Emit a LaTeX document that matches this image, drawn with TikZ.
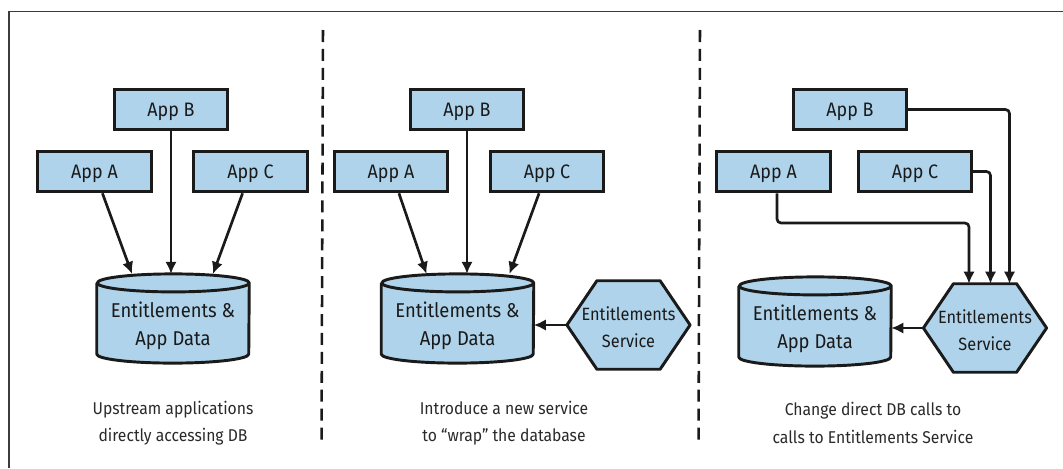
\documentclass[tikz,border=0pt]{standalone}
\usepackage{fontspec}
\setmainfont[FakeStretch=0.92]{Fira Sans}
\usetikzlibrary{arrows.meta,calc}
\definecolor{boxblue}{HTML}{AFD3EA}
\definecolor{inkc}{HTML}{1A1A1A}
\definecolor{captc}{HTML}{2A2A2A}
\tikzset{
  x=0.75pt,y=-0.75pt,
  appbox/.style={draw=inkc,fill=boxblue,line width=2.2pt,minimum width=85pt,minimum height=30.5pt,inner sep=0pt,text height=10pt,text depth=0pt,font=\fontsize{14.6}{17}\selectfont,text=inkc},
  dbframe/.style={inner sep=0pt,minimum width=114pt,minimum height=66.5pt},
  hexframe/.style={inner sep=0pt,minimum width=92pt,minimum height=66pt},
  dbtext/.style={inner sep=0pt,align=center,font=\fontsize{15}{20.3}\selectfont,text=inkc},
  hextext/.style={inner sep=0pt,align=center,font=\fontsize{13.3}{20.5}\selectfont,text=inkc},
  capt/.style={align=center,inner sep=0pt,font=\fontsize{12.8}{20.5}\selectfont,text=captc},
  link/.style={draw=inkc,line width=2pt,-{Latex[length=9pt,width=8.5pt]}},
  elbow/.style={link,rounded corners=3pt},
  shapeline/.style={draw=inkc,fill=boxblue,line width=2.2pt,line join=round},
  divider/.style={draw=inkc,line width=1.9pt,dash pattern=on 9pt off 5.2pt}
}
% #1 name, #2 centre
\newcommand{\dbshape}[2]{%
  \path (#2) node[dbframe] (#1) {};
  \draw[shapeline] ($(#1.north west)+(0,-6.75pt)$)
    -- ($(#1.south west)+(0,6.75pt)$) arc[x radius=57pt,y radius=6.75pt,start angle=180,end angle=360]
    -- ($(#1.north east)+(0,-6.75pt)$) arc[x radius=57pt,y radius=6.75pt,start angle=0,end angle=180]
    arc[x radius=57pt,y radius=6.75pt,start angle=180,end angle=360];
  \path ($(#1.center)+(0,-5.5pt)$) node[dbtext] (#1text) {Entitlements \&\\App Data};
}
% #1 name, #2 centre
\newcommand{\hexshape}[2]{%
  \path (#2) node[hexframe] (#1) {};
  \draw[shapeline] (#1.west) -- ($(#1.north west)+(22.5pt,0)$) -- ($(#1.north east)+(-22.5pt,0)$) -- (#1.east) -- ($(#1.south east)+(-22.5pt,0)$) -- ($(#1.south west)+(22.5pt,0)$) -- cycle;
  \path ($(#1.center)+(0,-1.5pt)$) node[hextext] (#1text) {Entitlements\\Service};
}
\begin{document}
\begin{tikzpicture}
\useasboundingbox (0,0) rectangle (1063,468);
\fill[white] (0,0) rectangle (1063,468);
\draw[draw=inkc!85,line width=1.1pt] (9,468) -- (9,11.5) -- (1063,11.5);

\coordinate (d1a) at (323,30); \coordinate (d1b) at (321.5,446);
\coordinate (d2a) at (700,30); \coordinate (d2b) at (698.5,446);
\draw[divider] (d1a) -- (d1b);
\draw[divider] (d2a) -- (d2b);

% Panel 1
\node[appbox] (b1) at (171,109.5) {App B};
\node[appbox] (a1) at (94.5,171.5) {App A};
\node[appbox] (c1) at (250.5,171.5) {App C};
\dbshape{db1}{173,318.5}
\draw[link] (a1.-70) -- ($(db1.north)+(-41,0)$);
\draw[link] (b1) -- (b1 |- db1.north);
\draw[link] (c1.-110) -- ($(db1.north)+(40,0)$);
\node[capt] (t1) at (173,423) {Upstream applications\\directly accessing DB};

% Panel 2
\node[appbox] (b2) at (467,109.5) {App B};
\node[appbox] (a2) at (391,171.5) {App A};
\node[appbox] (c2) at (547,171.5) {App C};
\dbshape{db2}{457.5,318.5}
\hexshape{h2}{628.5,325}
\draw[link] (a2.-70) -- ($(db2.north)+(-31,0)$);
\draw[link] (b2) -- (b2 |- db2.north);
\draw[link] (c2.-110) -- ($(db2.north)+(52,0)$);
\draw[link] (h2.west) -- (h2.west -| db2.east);
\node[capt] (t2) at (504,423) {Introduce a new service\\to “wrap” the database};

% Panel 3
\node[appbox] (b3) at (850,109.5) {App B};
\node[appbox] (a3) at (773.5,171.5) {App A};
\node[appbox] (c3) at (915,171.5) {App C};
\dbshape{db3}{815,321.5}
\hexshape{h3}{985,328}
\coordinate (sa) at ($(a3.south)+(3.5,0)$);
\coordinate (ta) at ($(h3.north)+(-16,0)$);
\coordinate (tc) at ($(h3.north)+(5.5,0)$);
\coordinate (tb) at ($(h3.north)+(24.5,0)$);
\coordinate (bend) at (0,223);
\draw[elbow] (sa) -- (sa |- bend) -- (ta |- bend) -- (ta);
\draw[elbow] (c3.east) -- (tc |- c3.east) -- (tc);
\draw[elbow] (b3.east) -- (tb |- b3.east) -- (tb);
\draw[link] (h3.west) -- (h3.west -| db3.east);
\node[capt] (t3) at (873,423) {Change direct DB calls to\\calls to Entitlements Service};
\end{tikzpicture}
\end{document}
